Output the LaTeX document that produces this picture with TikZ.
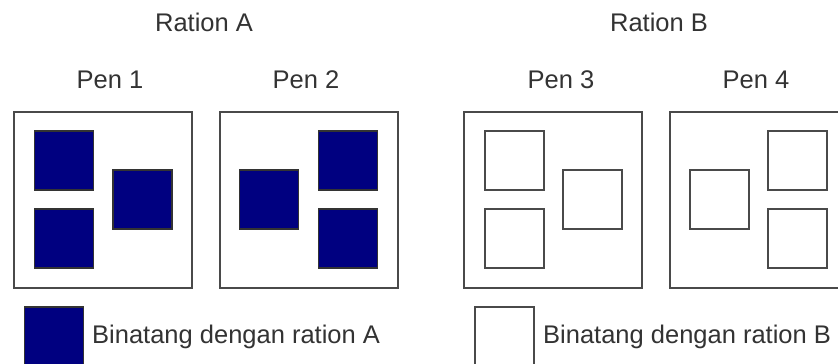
\documentclass[tikz,border=0pt]{standalone}
\usepackage{fontspec}
\setmainfont{Liberation Sans}
\definecolor{txt}{HTML}{333333}
\definecolor{edge}{HTML}{4A4A4A}
\definecolor{navyfill}{HTML}{000080}
\begin{document}
\begin{tikzpicture}[x=1pt,y=-1pt,
  lbl/.style={font=\fontsize{25.5}{30}\selectfont, text=txt, inner sep=0pt, anchor=base},
  pen/.style={draw=edge, line width=2pt, minimum width=178pt, minimum height=176pt, inner sep=0pt, anchor=north west},
  animA/.style={draw=black!80, line width=1.6pt, fill=navyfill, minimum size=59pt, inner sep=0pt, anchor=north west},
  animB/.style={draw=edge, line width=2pt, fill=white, minimum size=59pt, inner sep=0pt, anchor=north west}]
\useasboundingbox (0,0) rectangle (838,364);
\clip (0,0) rectangle (838,364);
\fill[white] (0,0) rectangle (838,364);
% titles
\node[lbl] (rA) at (204,31) {Ration A};
\node[lbl] (rB) at (659,31) {Ration B};
\node[lbl] (l1) at (110,88) {Pen 1};
\node[lbl] (l2) at (306,88) {Pen 2};
\node[lbl] (l3) at (561,88) {Pen 3};
\node[lbl] (l4) at (756,88) {Pen 4};
% pens
\node[pen] (p1) at (13,111) {};
\node[pen] (p2) at (219,111) {};
\node[pen] (p3) at (463,111) {};
\node[pen] (p4) at (669,111) {};
% pen 1
\node[animA] (a11) at (33.5,130) {};
\node[animA] (a12) at (33.5,208) {};
\node[animA] (a13) at (112,169) {};
% pen 2
\node[animA] (a21) at (238.5,169) {};
\node[animA] (a22) at (317.5,130) {};
\node[animA] (a23) at (317.5,208) {};
% pen 3
\node[animB] (b31) at (483.5,130) {};
\node[animB] (b32) at (483.5,208) {};
\node[animB] (b33) at (562,169) {};
% pen 4
\node[animB] (b41) at (689,169) {};
\node[animB] (b42) at (767,130) {};
\node[animB] (b43) at (767,208) {};
% legend
\node[animA, minimum height=70pt] (legA) at (23.5,306) {};
\node[lbl, anchor=base west] (tA) at (92,343) {Binatang dengan ration A};
\node[animB, minimum height=70pt] (legB) at (473.5,306) {};
\node[lbl, anchor=base west] (tB) at (543,343) {Binatang dengan ration B};
\end{tikzpicture}
\end{document}
